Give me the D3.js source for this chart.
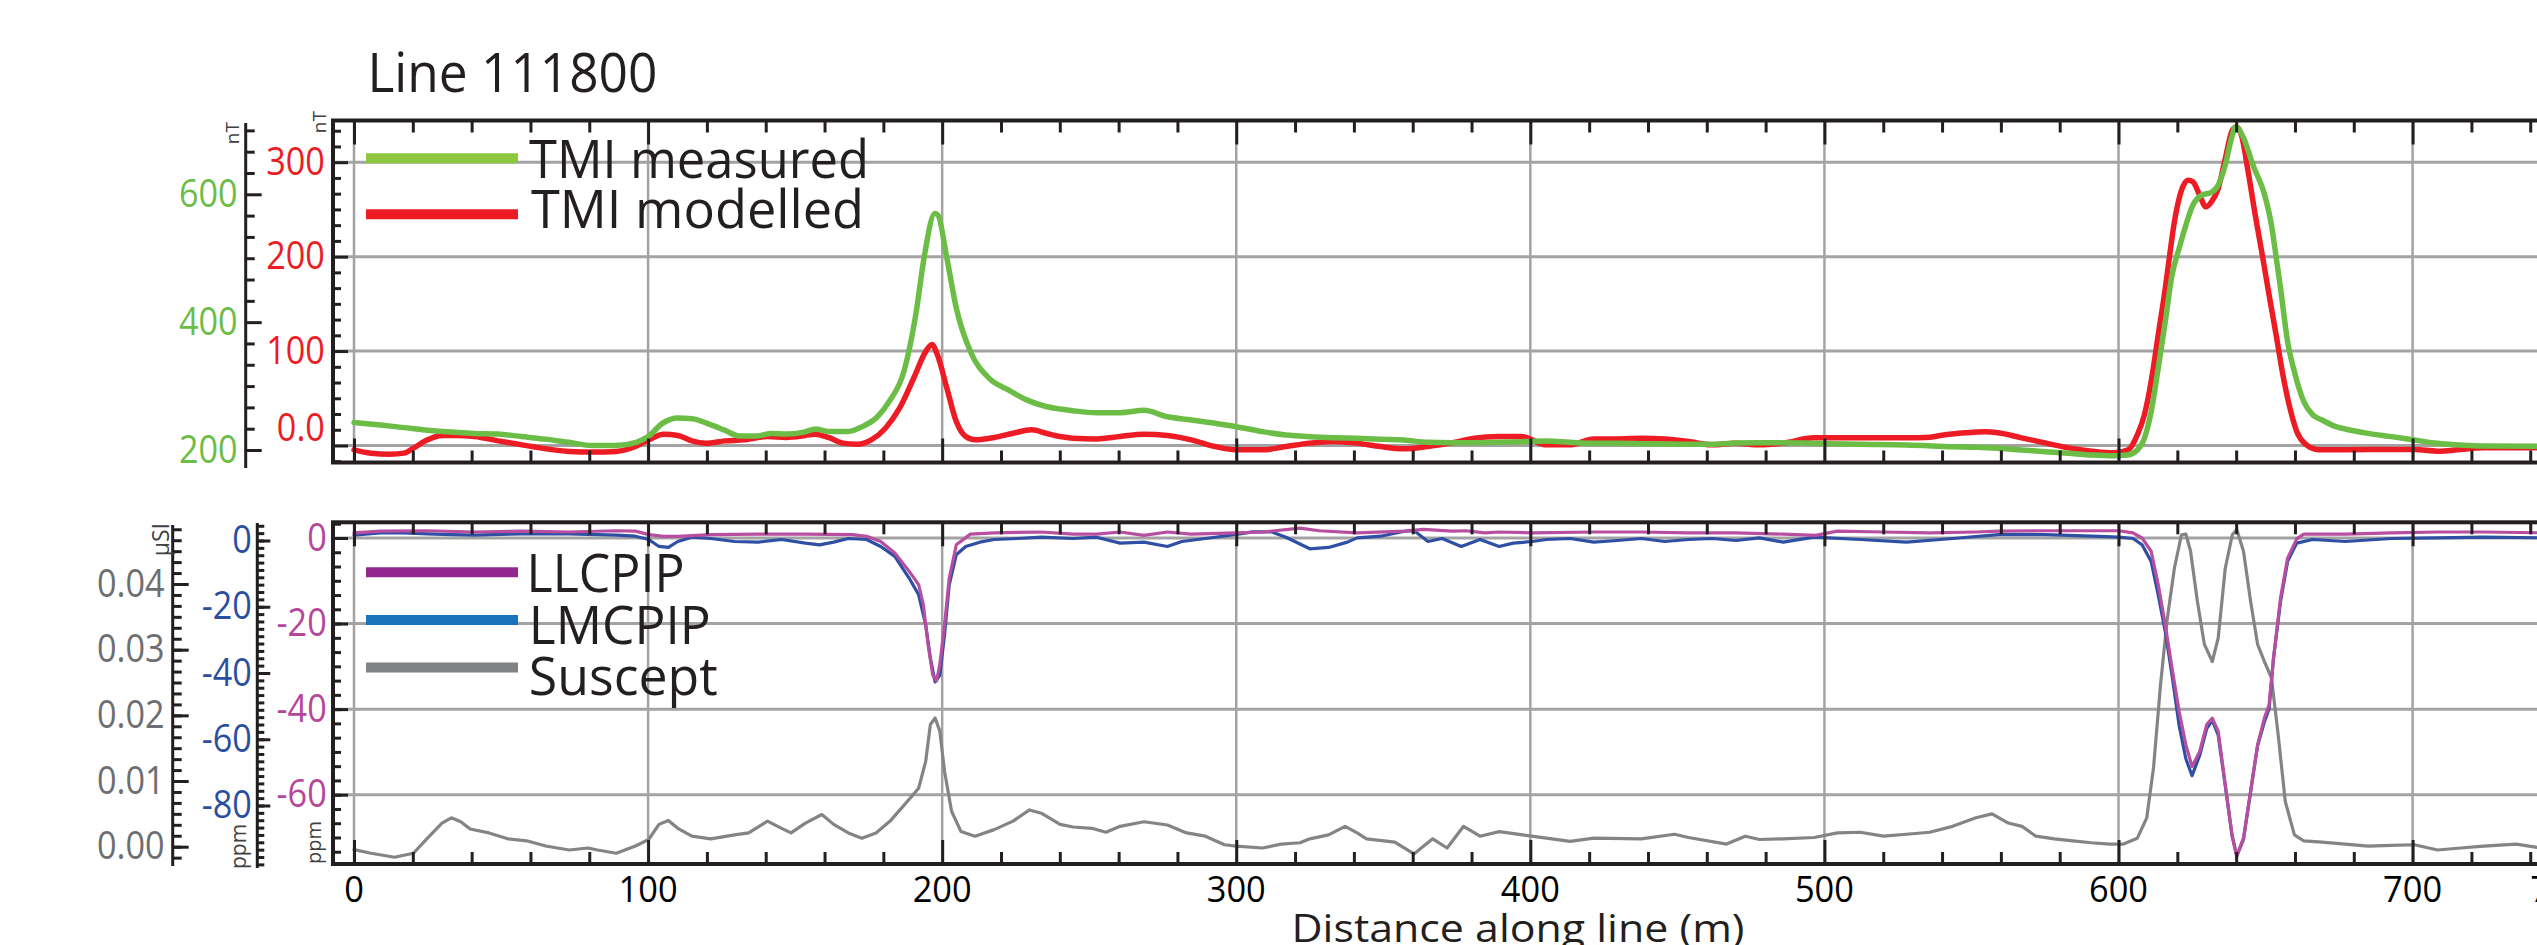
<!DOCTYPE html>
<html>
<head>
<meta charset="utf-8">
<script src="https://cdn.jsdelivr.net/npm/d3@7"></script>
<style>
  html, body { margin: 0; padding: 0; background: #fff; }
  svg { display: block; font-family: "Open Sans", "Noto Sans", sans-serif; }
</style>
</head>
<body>
<script>
// ---- Line 111800: magnetics (top) and inverted properties (bottom) ----

// TMI measured, [distance (m), nT]
const tmiMeasured = [
  [0,243],[9,239],[17,235],[25,231],[33,228],[41,226],[49,225],[57,221],[65,217],[73,212],
  [81,207],[89,207],[96,212],[100,221],[105,242],[110,250],[115,249],[121,240],[126,231],[131,222],
  [137,222],[142,226],[147,225],[153,228],[157,233],[161,229],[168,229],[173,237],[178,252],[182,276],
  [187,323],[191,411],[194,505],[197.5,570],[198.5,568],[201.6,500],[204.8,422],[209.6,354],[216,312],
  [222.5,294],[228.9,278],[235.3,268],[240.1,264],[244.4,261.5],[252.5,258.4],[260.5,258.4],[268.6,262],
  [276.6,252],[284.7,247],[292.8,241.7],[300,236.5],[308.9,228.7],[316.9,223.5],[325,220.9],[333,219.3],
  [341,218.3],[349,216.7],[357,215.6],[365,212],[373,211.5],[381,211.5],[389,212],[397,213],[405.5,214],
  [413.5,212],[421.6,210.4],[429.6,210.4],[437.7,209.9],[445.7,209.4],[453.8,208.9],[461.8,208.9],
  [469.9,211],[477.9,211.5],[486,211.5],[496.5,210.4],[512,208.9],[528,207.8],[543.6,205.2],[551.5,204.2],
  [559,202.6],[567,200],[575,197.4],[583,194.8],[591,192.2],[598.6,191.1],[603,192.2],[606.4,200],
  [608.8,218.2],[611.1,260],[613.5,327.7],[615.9,400.7],[618.2,473.7],[620.6,515.4],[622.9,551.9],
  [625.3,583.2],[628.4,598.9],[631.6,603],[633.9,614.5],[636.3,645.8],[638.7,692.7],[639.8,705.7],
  [642.6,687.5],[645.7,645.8],[649.7,598.9],[652,551.9],[653.5,505],[655.1,452.9],[657.5,369.4],
  [659.8,322.5],[663,275.6],[666.1,254.7],[669.2,246.9],[673.9,236.5],[678.6,231.3],[684.9,226],
  [692.8,220.9],[700.6,215.6],[708.5,210.4],[716.3,207.8],[724,206.3],[745,206]
];

// TMI modelled, [distance (m), nT]
const tmiModelled = [
  [0,-4.6],[5.8,-8.1],[12.2,-9.2],[17,-8.1],[20.2,-2.8],[25,6],[29.9,10.6],[34.7,10.6],[41.1,9.5],
  [49.1,4.9],[57.1,0.7],[65.2,-3.5],[73.2,-6.3],[81.2,-7],[89.2,-6.3],[95.7,-1.1],[100.2,6],[105.3,12],
  [110.1,10.6],[114.9,4.9],[119.7,2.5],[126.2,4.9],[132.6,6],[140.6,9.5],[147,8.5],[153.5,10.6],
  [156.6,12],[161.4,8.5],[166.2,2.5],[171.1,1.4],[175.9,6],[180.7,18.3],[185.5,39.5],[190.3,71.2],
  [194.4,99.4],[196.5,107],[198.4,95.9],[201.6,60.6],[204.8,25.4],[208,9.5],[211.2,6],[217.7,8.5],
  [224.1,13],[230.5,16.6],[235.3,13],[240.1,9.5],[244.4,7.8],[252.5,7],[260.5,9.5],[268.6,12],
  [276.6,10.6],[284.7,6],[292.8,-1.1],[300,-4.6],[308.9,-4.6],[316.9,-1.1],[325,2.5],[333,4.2],
  [341,2.5],[349,-1.1],[357,-3.5],[365,-1.1],[373,2.5],[381,7.8],[389,9.5],[397,9.5],[405.5,0.7],
  [413.5,0.7],[421.6,7],[429.6,7],[437.7,7.8],[445.7,7],[453.8,4.2],[461.8,0.7],[469.9,2.5],[477.9,0.7],
  [486,2.5],[496.5,8.1],[512,8.1],[528,8.1],[536,8.8],[540,10.9],[548,13.4],[554.6,14.5],[559,13.4],
  [567,8.1],[575,2.8],[583,-2.5],[591,-6],[598.6,-7.8],[603.3,-4.6],[606.4,11.3],[608.8,32.4],
  [611.1,67.7],[613.5,117],[615.9,166.4],[617.4,201.6],[619,236.9],[620.6,261.5],[622.1,275.6],
  [623.7,280.9],[625.3,279.2],[627.6,265.1],[629.7,252.7],[631.6,258],[633.9,272.1],[636.3,303.8],
  [638.7,333.8],[640.2,337.3],[641.8,328.5],[644.1,289.7],[646.5,243.9],[648.9,201.6],[651.2,159.3],
  [653.6,117],[655.9,74.7],[658.3,39.5],[660.6,14.8],[663.8,0.7],[666.9,-3.9],[669.2,-4.6],
  [684.9,-4.2],[700.6,-4.2],[708.5,-6],[716.3,-4.2],[724,-2.5],[745,-2.5]
];

// LLCPIP, [distance (m), ppm]
const llcpip = [
  [0,1.2],[9,1.6],[25,1.7],[41,1.4],[57,1.6],[73,1.4],[89,1.7],[95.7,1.6],[100.2,0.8],[105.3,0.4],
  [110.1,0.4],[121.3,0.8],[137.4,0.9],[153.5,0.9],[169.5,0.8],[174.3,0.4],[179.1,-0.8],[183.9,-3.5],
  [188.8,-7.8],[192,-10.9],[193.6,-15.6],[195.2,-24.9],[196.8,-32],[198.1,-33.4],[199.2,-29.6],
  [200.8,-20.3],[202.4,-9.4],[204.8,-1.6],[209.6,0.9],[217.7,1.2],[233.7,1.4],[244.6,0.9],[252.5,0.9],
  [260.5,1.4],[268.6,0.6],[276.6,1.4],[284.7,0.9],[300,1.2],[308.9,1.4],[321.7,2.3],[328.2,1.7],
  [341.1,1.2],[357.2,1.6],[363.6,2],[373.3,1.6],[378.1,1.7],[384.5,1.2],[389.4,1.4],[400.6,1.2],
  [421.6,1.4],[437.7,1.4],[453.8,1.2],[469.9,1.2],[486,0.9],[497,0.6],[504.4,1.6],[520.1,1.4],
  [535.8,1.2],[551.5,1.4],[559.3,1.6],[575,1.7],[590.7,1.7],[600.2,1.7],[604.9,1.2],[608,0],
  [611.1,-3.1],[613.5,-10.9],[615.9,-20.3],[618.2,-30.4],[620.6,-40.5],[622.9,-48.3],[625,-53.4],
  [627.6,-49.9],[630,-43.6],[631.9,-42.1],[633.9,-45.2],[636.3,-57.7],[638.6,-69.4],[640.2,-74.4],
  [642.5,-70.1],[644.9,-59.2],[647.3,-48.3],[649.6,-42.1],[651.2,-39],[652.7,-28.1],[655.1,-14],
  [657.5,-4.7],[660.6,-0.2],[663,0.9],[677.1,0.9],[692.8,1.2],[708.5,1.4],[724.2,1.4],[745,1.2]
];

// LMCPIP, [distance (m), ppm]
const lmcpip = [
  [0,1.6],[9,2.3],[17,2.3],[25,2],[33.1,1.8],[41.1,1.6],[57.1,2],[73.2,2],[89.2,1.6],[95.7,1.3],
  [100.2,0.3],[103.7,-1.8],[106.9,-2.1],[110.1,-0.3],[114.9,1],[121.3,0.6],[129.4,-0.3],[137.4,-0.5],
  [145.4,0.3],[153.5,-0.8],[158.3,-1.3],[163.1,-0.5],[168.1,0.6],[174.3,0.3],[179.1,-1.8],[183.9,-4.8],
  [188.8,-11.4],[192,-16.4],[194.4,-25.5],[196,-35.6],[197.6,-42.7],[199.2,-40.7],[200.8,-28.5],
  [202.4,-13.4],[204.8,-4.3],[208,-1.8],[212.8,-0.5],[217.7,0.3],[225.7,0.6],[233.7,1],[244.4,0.6],
  [252.5,1],[260.5,-0.8],[268.6,-0.5],[276.6,-1.8],[281.5,-0.3],[289.5,0.6],[300,1.8],[305.6,2.6],
  [312.1,2.6],[316.9,1],[325,-2.5],[331.4,-2.1],[337.8,-0.5],[341.1,0.8],[349.1,1.3],[357.2,2.8],
  [360.4,3],[365.2,-0.3],[370,0.6],[376.5,-1.8],[382.9,0.3],[389.4,-1.8],[394.2,-0.8],[400.6,-0.3],
  [405.5,0.3],[413.5,0.6],[421.6,-0.5],[429.6,0],[437.7,0.6],[445.7,-0.3],[453.8,0.3],[461.8,0.6],
  [469.9,0],[477.9,0.8],[486,-0.5],[496.5,1],[512.2,0.3],[527.9,-0.5],[543.6,0.6],[559.3,1.8],
  [575,1.8],[590.7,1.3],[600.2,1],[604.9,0.6],[608,-1.3],[611.1,-6.3],[613.5,-16.4],[615.9,-27.5],
  [618.2,-40.7],[620.6,-55.8],[622.9,-65.9],[625,-71],[627.6,-64.9],[630,-56.8],[631.9,-54.3],
  [633.9,-58.8],[636.3,-74],[638.6,-89.1],[640.2,-95.2],[642.5,-90.2],[644.9,-76],[647.3,-61.9],
  [649.6,-54.8],[651.2,-50.8],[652.7,-35.6],[655.1,-18.4],[657.5,-6.3],[660.6,-0.8],[666,0.3],
  [677.1,-0.3],[692.8,0.6],[708.5,0.8],[724.2,1],[745,0.8]
];

// Suscept, [distance (m), µSI]
const suscept = [
  [0,-0.00045],[5.8,-0.001],[13.8,-0.0016],[20.2,-0.001],[25,0.0013],[29.9,0.0036],[33.1,0.0044],
  [36.3,0.0038],[39.5,0.0027],[45.9,0.0021],[52.3,0.0012],[58.7,0.0009],[65.2,0.0001],[73.2,-0.0005],
  [79.6,-0.0002],[82.8,-0.0005],[89.2,-0.001],[95.7,0.0001],[100.2,0.0011],[103.7,0.0034],[106.9,0.004],
  [110.1,0.0028],[114.9,0.0016],[121.3,0.0012],[129.4,0.0018],[134.2,0.0021],[140.6,0.0039],
  [145.4,0.0028],[148.6,0.0021],[153.5,0.0036],[159.1,0.0049],[163.1,0.0034],[168.1,0.0021],
  [172.7,0.0013],[177.5,0.0021],[182.3,0.0039],[187.2,0.0064],[192,0.0089],[194.4,0.013],[196,0.0186],
  [197.6,0.0196],[199.2,0.0176],[200.8,0.0115],[203.2,0.0054],[206.4,0.0023],[211.2,0.0016],
  [217.7,0.0026],[224.1,0.0039],[229.7,0.0056],[233.7,0.0051],[240.1,0.0034],[244.5,0.003],
  [250.9,0.0028],[255.7,0.0022],[260.5,0.0031],[268.6,0.0038],[276.6,0.0033],[283.1,0.0021],
  [289.5,0.0016],[296,0.0003],[300,0.0001],[308.9,-0.0002],[315.3,0.0004],[321.7,0.0006],[325,0.0012],
  [331.4,0.0018],[337,0.0031],[341.1,0.0021],[344.3,0.0012],[353.9,0.0007],[360.4,-0.0011],
  [366.8,0.0012],[371.7,-0.0002],[377.3,0.0031],[382.9,0.0016],[389.4,0.0023],[397.4,0.0018],
  [405.5,0.0013],[413.5,0.0008],[421.6,0.0013],[437.7,0.0012],[449,0.0019],[453.8,0.0014],
  [466.7,0.0004],[473.1,0.0016],[477.9,0.0011],[486,0.0012],[496.5,0.0014],[504.4,0.0021],
  [512.2,0.0022],[520.1,0.0016],[527.9,0.0019],[535.8,0.0022],[543.6,0.0031],[551.5,0.0044],
  [557,0.005],[562.5,0.0036],[567.2,0.0031],[571.9,0.0016],[578.2,0.0012],[584.5,0.0009],
  [590.7,0.0006],[597,0.0004],[601.7,0.0004],[606.4,0.0013],[609.6,0.0044],[611.9,0.012],
  [614.3,0.0247],[616.6,0.0348],[619,0.0424],[621.4,0.0475],[622.9,0.0476],[624.5,0.045],
  [626.8,0.0374],[629.2,0.0308],[631.9,0.0282],[633.9,0.0318],[636.3,0.0424],[638.7,0.0475],
  [640.2,0.0483],[642.5,0.045],[644.9,0.0374],[647.3,0.0308],[649.6,0.0282],[652,0.0257],
  [654.3,0.017],[656.7,0.0069],[659.8,0.0018],[663,0.0009],[669.2,0.0007],[677.1,0.0004],
  [684.9,0.0001],[692.8,0.0002],[700.6,0.0003],[708.5,-0.0005],[716.3,-0.0002],[724.2,0.0001],
  [735.2,0.0004],[745,-0.0003]
];

// Tick labels
const distanceTicks = [0, 100, 200, 300, 400, 500, 600, 700, 750];
const measuredTicks = [200, 400, 600];
const modelledTicks = [0, 100, 200, 300];
const susceptTicks = [0, 0.01, 0.02, 0.03, 0.04];
const lmcpipTicks = [0, -20, -40, -60, -80];
const llcpipTicks = [0, -20, -40, -60];

// ---- layout ----
const W = 2537, H = 945;
const INK = "#231f20";
const GRID = "#a3a3a3";
const C = {
  measured: "#6cbd45", measuredKey: "#8dc63f",
  modelled: "#ed1c24",
  llcpip: "#b84ea0", llcpipKey: "#92278f", llcpipText: "#b5479b",
  lmcpip: "#2e4fa3", lmcpipKey: "#1c75bc", lmcpipText: "#2b4fa0",
  suscept: "#848484", susceptKey: "#808285", susceptText: "#6d6e71"
};

const frameL = 333, frameR = 2724;
const topP = { y0: 120.5, y1: 462.5 };
const botP = { y0: 522.3, y1: 864 };

const x = d3.scaleLinear().domain([0, 700]).range([354, 2412.6]);
const yModelled = d3.scaleLinear().domain([0, 300]).range([445.5, 162.2]);
const yMeasured = d3.scaleLinear().domain([200, 600]).range([450, 194.3]);
const yLLCPIP = d3.scaleLinear().domain([0, -60]).range([538, 794.7]);
const yLMCPIP = d3.scaleLinear().domain([0, -80]).range([540.5, 805.5]);
const ySuscept = d3.scaleLinear().domain([0, 0.04]).range([846.7, 584]);

const svg = d3.select("body").append("svg")
  .attr("width", W).attr("height", H)
  .attr("viewBox", `0 0 ${W} ${H}`);
svg.append("rect").attr("width", W).attr("height", H).attr("fill", "#fff");

const defs = svg.append("defs");
[["clipTop", topP], ["clipBot", botP]].forEach(([id, p]) => {
  defs.append("clipPath").attr("id", id).append("rect")
    .attr("x", frameL).attr("y", p.y0).attr("width", frameR - frameL).attr("height", p.y1 - p.y0);
});

// ---- title ----
svg.append("text").attr("x", 367.4).attr("y", 91.7)
  .attr("font-size", 54).attr("fill", INK)
  .attr("textLength", 290).attr("lengthAdjust", "spacingAndGlyphs")
  .text("Line 111800");

// ---- grids ----
const distGrid = d3.range(0, 801, 100);
function vGrid(p, clip) {
  svg.append("g").attr("clip-path", `url(#${clip})`)
    .selectAll("line").data(distGrid).join("line")
    .attr("x1", d => x(d)).attr("x2", d => x(d))
    .attr("y1", p.y0).attr("y2", p.y1)
    .attr("stroke", GRID).attr("stroke-width", 2.5);
}
function hGrid(vals, scale) {
  svg.append("g").selectAll("line").data(vals).join("line")
    .attr("x1", frameL).attr("x2", frameR)
    .attr("y1", d => scale(d)).attr("y2", d => scale(d))
    .attr("stroke", GRID).attr("stroke-width", 3);
}
vGrid(topP, "clipTop");
vGrid(botP, "clipBot");
hGrid(modelledTicks, yModelled);
hGrid(llcpipTicks, yLLCPIP);

// ---- series ----
function drawSeries(data, yScale, color, width, clip, curve) {
  const line = d3.line().x(d => x(d[0])).y(d => yScale(d[1])).curve(curve);
  svg.append("path").datum(data)
    .attr("clip-path", `url(#${clip})`)
    .attr("d", line).attr("fill", "none")
    .attr("stroke", color).attr("stroke-width", width)
    .attr("stroke-linejoin", "round").attr("stroke-linecap", "round");
}
drawSeries(tmiModelled, yModelled, C.modelled, 5.5, "clipTop", d3.curveMonotoneX);
drawSeries(tmiMeasured, yMeasured, C.measured, 5.5, "clipTop", d3.curveMonotoneX);
drawSeries(suscept, ySuscept, C.suscept, 3.2, "clipBot", d3.curveLinear);
drawSeries(lmcpip, yLMCPIP, C.lmcpip, 3.2, "clipBot", d3.curveLinear);
drawSeries(llcpip, yLLCPIP, C.llcpip, 3.2, "clipBot", d3.curveLinear);

// ---- legends ----
function legendItem(y, color, label, tx, ty, tlen) {
  svg.append("line").attr("x1", 366).attr("x2", 518).attr("y1", y).attr("y2", y)
    .attr("stroke", color).attr("stroke-width", 10);
  svg.append("text").attr("x", tx).attr("y", ty)
    .attr("font-size", 53).attr("fill", INK)
    .attr("textLength", tlen).attr("lengthAdjust", "spacingAndGlyphs")
    .text(label);
}
legendItem(158.3, C.measuredKey, "TMI measured", 529, 178.3, 340);
legendItem(214.3, C.modelled, "TMI modelled", 531, 227.7, 333);
legendItem(572.3, C.llcpipKey, "LLCPIP", 526.5, 592, 158);
legendItem(620, C.lmcpipKey, "LMCPIP", 528.8, 644, 182);
legendItem(667.5, C.susceptKey, "Suscept", 528.8, 694.7, 189);

// ---- distance ticks on panel edges ----
const distMinor = d3.range(0, 801, 20);
function edgeTicks(p) {
  [[d3.axisTop, p.y0], [d3.axisBottom, p.y1]].forEach(([axisFn, yy]) => {
    [[distMinor.filter(d => d % 100 !== 0), -12], [distGrid, -24]].forEach(([vals, size]) => {
      svg.append("g").attr("transform", `translate(0,${yy})`)
        .call(axisFn(x).tickValues(vals).tickSizeInner(size).tickSizeOuter(0).tickFormat(""))
        .call(g => g.select(".domain").remove())
        .call(g => g.selectAll("line").attr("stroke", INK).attr("stroke-width", 3));
    });
  });
}
edgeTicks(topP);
edgeTicks(botP);

// ---- frames ----
[topP, botP].forEach(p => {
  svg.append("rect").attr("x", frameL).attr("y", p.y0)
    .attr("width", frameR - frameL).attr("height", p.y1 - p.y0)
    .attr("fill", "none").attr("stroke", INK).attr("stroke-width", 4);
});

// ---- vertical value axes ----
function valueAxis(opts) {
  const g = svg.append("g").attr("transform", `translate(${opts.x},0)`);
  if (opts.line) {
    g.append("line").attr("x1", 0).attr("x2", 0)
      .attr("y1", opts.line[0]).attr("y2", opts.line[1])
      .attr("stroke", INK).attr("stroke-width", 3);
  }
  g.append("g")
    .call(d3.axisLeft(opts.scale).tickValues(opts.minor).tickSizeInner(-opts.minorLen).tickSizeOuter(0).tickFormat(""))
    .call(s => s.select(".domain").remove())
    .call(s => s.selectAll("line").attr("stroke", INK).attr("stroke-width", 3));
  g.append("g")
    .call(d3.axisLeft(opts.scale).tickValues(opts.major).tickSizeInner(-opts.majorLen).tickSizeOuter(0)
      .tickPadding(opts.pad).tickFormat(opts.fmt))
    .call(s => s.select(".domain").remove())
    .call(s => s.selectAll("line").attr("stroke", INK).attr("stroke-width", 3))
    .call(s => s.selectAll("text")
      .attr("fill", opts.color).attr("font-size", 38)
      .attr("font-family", "'Open Sans', 'Noto Sans', sans-serif")
      .attr("transform", "scale(0.9,1)")
      .attr("dy", d => (opts.dy ? opts.dy(d) : "0.32em")));
}

function stepRange(lo, hi, step) {
  const n0 = Math.ceil(lo / step - 1e-6), n1 = Math.floor(hi / step + 1e-6);
  return d3.range(n0, n1 + 1).map(i => i * step);
}

// TMI measured (green, outer)
valueAxis({
  x: 245.7, line: [123, 468], scale: yMeasured,
  major: measuredTicks, minor: stepRange(200, 700, 100 / 3).filter(v => Math.abs(v % 200) > 1),
  majorLen: 16, minorLen: 9, pad: 9, color: C.measured, fmt: d => d
});
// TMI modelled (red, on frame)
valueAxis({
  x: frameL, scale: yModelled,
  major: modelledTicks, minor: stepRange(-16.7, 340, 100 / 6).filter(v => Math.abs(v % 100) > 1 && Math.abs(v % 100) < 99),
  majorLen: 15, minorLen: 8, pad: 9, color: C.modelled,
  fmt: d => (d === 0 ? "0.0" : d), dy: d => (d === 0 ? "-0.13em" : "0.32em")
});
// Suscept (grey, outer)
valueAxis({
  x: 172.7, line: [525, 866], scale: ySuscept,
  major: susceptTicks, minor: stepRange(-0.0018, 0.049, 0.01 / 6),
  majorLen: 16, minorLen: 9, pad: 9, color: C.susceptText, fmt: d3.format(".2f")
});
// LMCPIP (blue, middle)
valueAxis({
  x: 257.3, line: [523, 868], scale: yLMCPIP,
  major: lmcpipTicks, minor: stepRange(-98, 4.5, 20 / 9),
  majorLen: 13, minorLen: 7, pad: 6, color: C.lmcpipText, fmt: d => d
});
// LLCPIP (magenta, on frame)
valueAxis({
  x: frameL, scale: yLLCPIP,
  major: llcpipTicks, minor: stepRange(-75, 3.4, 10 / 3),
  majorLen: 15, minorLen: 8, pad: 7, color: C.llcpipText, fmt: d => d
});

// ---- unit labels (rotated) ----
function unitLabel(tx, ty, anchor, size, label) {
  svg.append("text")
    .attr("transform", `translate(${tx},${ty}) rotate(-90)`)
    .attr("text-anchor", anchor).attr("font-size", size).attr("fill", "#414042")
    .text(label);
}
unitLabel(239, 122, "end", 19, "nT");
unitLabel(326, 111, "end", 19, "nT");
unitLabel(169, 523, "end", 23, "µSI");
unitLabel(246, 869, "start", 21, "ppm");
unitLabel(321, 864, "start", 20, "ppm");

// ---- distance labels and title ----
svg.append("g").selectAll("text").data(distanceTicks).join("text")
  .attr("transform", d => `translate(${x(d)},901.7) scale(0.93,1)`)
  .attr("text-anchor", "middle").attr("font-size", 37).attr("fill", "#000")
  .text(d => d);

svg.append("text").attr("x", 1291.5).attr("y", 942)
  .attr("font-size", 39).attr("fill", INK)
  .attr("textLength", 453).attr("lengthAdjust", "spacingAndGlyphs")
  .text("Distance along line (m)");
</script>
</body>
</html>
